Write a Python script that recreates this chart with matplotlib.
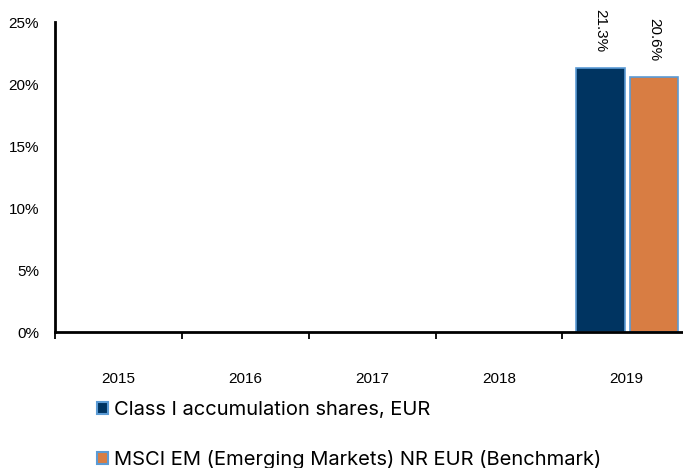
import matplotlib
matplotlib.use('Agg')
import matplotlib.pyplot as plt
from matplotlib.patches import Patch
import numpy as np

years = ['2015', '2016', '2017', '2018', '2019']
fund = [np.nan, np.nan, np.nan, np.nan, 21.3]
bench = [np.nan, np.nan, np.nan, np.nan, 20.6]
series_names = ['Class I accumulation shares, EUR',
                'MSCI EM (Emerging Markets) NR EUR (Benchmark)']
yticks = [0, 5, 10, 15, 20, 25]

navy = '#003461'
orange = '#D87D43'
edge = '#5B9BD5'

fig = plt.figure(figsize=(6.83, 4.68), dpi=100)
ax = fig.add_axes([55 / 683, 1 - 332 / 468, 628 / 683, 310 / 468])

x = np.arange(len(years))
w = 0.38
ax.bar(x - 0.2, fund, w, color=navy, edgecolor=edge, linewidth=1.2)
ax.bar(x + 0.22, bench, w, color=orange, edgecolor=edge, linewidth=1.2)

for xs, vals in ((x - 0.2, fund), (x + 0.22, bench)):
    for xi, v in zip(xs, vals):
        if not np.isnan(v):
            ax.annotate(f'{v:.1f}%', (xi, v), xytext=(0, 11), textcoords='offset points',
                        rotation=270, ha='center', va='bottom', fontsize=11,
                        family='Liberation Sans', annotation_clip=False)

ax.set_ylim(0, 25)
ax.set_xlim(-0.5, 4.45)
ax.set_yticks(yticks)
ax.set_yticklabels([f'{t}%' for t in yticks], family='Liberation Sans', fontsize=11)
ax.tick_params(axis='y', length=0, pad=11.5)

# category boundaries carry the ticks, labels sit in the middle
ax.set_xticks(np.arange(len(years)) - 0.5)
ax.set_xticklabels([])
ax.set_xticks(x, minor=True)
ax.set_xticklabels(years, minor=True, family='Liberation Sans', fontsize=11)
ax.tick_params(axis='x', which='major', length=5, width=1.3, direction='out')
ax.tick_params(axis='x', which='minor', length=0, pad=29)

for s in ('top', 'right'):
    ax.spines[s].set_visible(False)
ax.spines['left'].set_linewidth(2)
ax.spines['bottom'].set_linewidth(2)

handles = [Patch(facecolor=navy, edgecolor=edge, linewidth=1.5),
           Patch(facecolor=orange, edgecolor=edge, linewidth=1.5)]
fig.legend(handles, series_names, loc='upper left', bbox_to_anchor=(89 / 683, 1 - 393 / 468),
           frameon=False, prop={'family': 'Inter', 'size': 14.5},
           handlelength=0.55, handleheight=0.55, handletextpad=0.3, labelspacing=1.55,
           borderaxespad=0)

fig.savefig('out.png', dpi=100)
